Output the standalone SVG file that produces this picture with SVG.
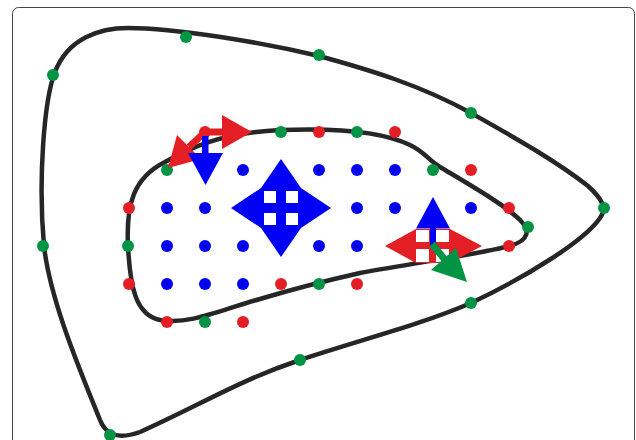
<svg xmlns="http://www.w3.org/2000/svg" width="636" height="440" viewBox="0 0 636 440">
<style>
.curve{fill:none;stroke:#262626;stroke-width:4.5;stroke-linejoin:round}
.r{fill:#e31e25}
.g{fill:#009444}
.b{fill:#0000f5}
.w{fill:#ffffff}
.c{fill:#00007a}
</style>
<rect x="12.5" y="7.5" width="622" height="450" rx="6" fill="#fff" stroke="#444" stroke-width="1"/>
<g id="connectors">
<path id="outer" class="curve" d="M128,28 C100,28 68,38 55,72 C44,100 38,180 44,246 C50,300 80,370 100,420 C106,435 118,440 140,432 C200,405 240,380 300,360 C360,340 420,325 471,303 C530,275 585,240 600,218 C608,207 600,197 588,186 C555,160 510,135 471,113 C420,85 370,70 319,56 C260,42 175,28 128,28 Z"/>
<path id="inner" class="curve" d="M128,246 C126,205 133,178 165,162 C190,148 220,133 280,130 C330,128 380,130 410,145 C425,152 428,160 440,167 C470,185 505,205 520,220 C530,230 530,240 510,246 C480,254 420,262 360,273 C320,282 290,290 260,299 C220,310 190,325 160,320 C135,315 130,285 128,246 Z"/>
</g>
<g id="outer-points">
<circle class="g" cx="186" cy="37" r="6"/>
<circle class="g" cx="319" cy="55" r="6"/>
<circle class="g" cx="471" cy="113" r="6"/>
<circle class="g" cx="604" cy="208" r="6"/>
<circle class="g" cx="471" cy="303" r="6"/>
<circle class="g" cx="300" cy="360" r="6"/>
<circle class="g" cx="110" cy="435" r="6"/>
<circle class="g" cx="43" cy="246" r="6"/>
<circle class="g" cx="53" cy="75" r="6"/>
</g>
<g id="red-points">
<circle class="r" cx="205" cy="132" r="6"/>
<circle class="r" cx="319" cy="132" r="6"/>
<circle class="r" cx="395" cy="132" r="6"/>
<circle class="r" cx="471" cy="170" r="6"/>
<circle class="r" cx="129" cy="208" r="6"/>
<circle class="r" cx="509" cy="208" r="6"/>
<circle class="r" cx="509" cy="246" r="6"/>
<circle class="r" cx="129" cy="284" r="6"/>
<circle class="r" cx="281" cy="284" r="6"/>
<circle class="r" cx="357" cy="284" r="6"/>
<circle class="r" cx="167" cy="322" r="6"/>
<circle class="r" cx="243" cy="322" r="6"/>
</g>
<g id="green-points">
<circle class="g" cx="281" cy="132" r="6"/>
<circle class="g" cx="357" cy="132" r="6"/>
<circle class="g" cx="167" cy="170" r="6"/>
<circle class="g" cx="433" cy="170" r="6"/>
<circle class="g" cx="128" cy="246" r="6"/>
<circle class="g" cx="528" cy="227" r="6"/>
<circle class="g" cx="319" cy="284" r="6"/>
<circle class="g" cx="205" cy="322" r="6"/>
</g>
<g id="blue-points">
<circle class="b" cx="243" cy="170" r="6"/><circle class="c" cx="243" cy="170" r="1"/>
<circle class="b" cx="319" cy="170" r="6"/><circle class="c" cx="319" cy="170" r="1"/>
<circle class="b" cx="357" cy="170" r="6"/><circle class="c" cx="357" cy="170" r="1"/>
<circle class="b" cx="395" cy="170" r="6"/><circle class="c" cx="395" cy="170" r="1"/>
<circle class="b" cx="167" cy="208" r="6"/><circle class="c" cx="167" cy="208" r="1"/>
<circle class="b" cx="205" cy="208" r="6"/><circle class="c" cx="205" cy="208" r="1"/>
<circle class="b" cx="357" cy="208" r="6"/><circle class="c" cx="357" cy="208" r="1"/>
<circle class="b" cx="395" cy="208" r="6"/><circle class="c" cx="395" cy="208" r="1"/>
<circle class="b" cx="471" cy="208" r="6"/><circle class="c" cx="471" cy="208" r="1"/>
<circle class="b" cx="167" cy="246" r="6"/><circle class="c" cx="167" cy="246" r="1"/>
<circle class="b" cx="205" cy="246" r="6"/><circle class="c" cx="205" cy="246" r="1"/>
<circle class="b" cx="243" cy="246" r="6"/><circle class="c" cx="243" cy="246" r="1"/>
<circle class="b" cx="319" cy="246" r="6"/><circle class="c" cx="319" cy="246" r="1"/>
<circle class="b" cx="357" cy="246" r="6"/><circle class="c" cx="357" cy="246" r="1"/>
<circle class="b" cx="167" cy="284" r="6"/><circle class="c" cx="167" cy="284" r="1"/>
<circle class="b" cx="205" cy="284" r="6"/><circle class="c" cx="205" cy="284" r="1"/>
<circle class="b" cx="243" cy="284" r="6"/><circle class="c" cx="243" cy="284" r="1"/>
</g>
<g id="star">
<polygon class="b" points="281,159 301,188 331,208 301,228 281,257 261,228 231,208 261,188"/>
<rect class="w" x="264" y="191" width="12" height="12"/>
<rect class="w" x="286" y="191" width="12" height="12"/>
<rect class="w" x="264" y="213" width="12" height="12"/>
<rect class="w" x="286" y="213" width="12" height="12"/>
</g>
<g id="left-arrows">
<line x1="205" y1="132" x2="224" y2="132" stroke="#e31e25" stroke-width="7"/>
<polygon class="r" points="222,115 252,132 222,149"/>
<line x1="205" y1="132" x2="189" y2="147" stroke="#e31e25" stroke-width="7"/>
<polygon class="r" points="168,168 177,135 201,159"/>
<rect class="b" x="202" y="136" width="6.5" height="19"/>
<polygon class="b" points="188,153 223,153 205.5,185"/>
</g>
<g id="right-arrows">
<polygon class="r" points="385,246 416,229 450,229 482,246 450,263 416,263"/>
<rect class="w" x="416" y="230" width="13" height="12"/>
<rect class="w" x="436" y="230" width="13" height="12"/>
<rect class="w" x="416" y="249" width="13" height="13"/>
<rect class="w" x="436" y="249" width="13" height="13"/>
<polygon class="b" points="416,228.5 450,228.5 433,197"/>
<rect class="b" x="430" y="228" width="6" height="17"/>
<line x1="432" y1="244" x2="446" y2="261" stroke="#009444" stroke-width="7"/>
<polygon class="g" points="431,270 456,248 467,282"/>
</g>
</svg>
